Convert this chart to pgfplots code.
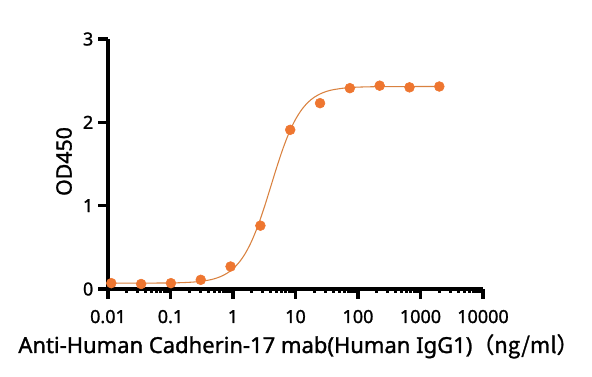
\documentclass[border=0pt]{standalone}
\usepackage{fontspec}
\setmainfont{Noto Sans}[UprightFeatures={FakeBold=1.3}]
\newfontfamily\cjk{Noto Sans CJK SC}[FakeBold=1.3]
\usepackage{pgfplots}
\pgfplotsset{compat=1.18}
\definecolor{pt}{HTML}{EE7630}
\definecolor{ln}{HTML}{D9813F}
\begin{document}
\begin{tikzpicture}
\path[use as bounding box] (-81pt,-66pt) rectangle (363pt,216.75pt);
\begin{axis}[
  at={(0,0)}, anchor=south west,
  scale only axis, width=281.25pt, height=187.5pt,
  xmode=log, xmin=0.01, xmax=10000, ymin=0, ymax=3,
  axis x line=bottom, axis y line=left,
  axis line style={-, line width=2.4pt, black},
  xtick={0.01,0.1,1,10,100,1000,10000},
  xticklabels={0.01,0.1,1,10,100,1000,10000},
  ytick={0,1,2,3}, yticklabels={0,1,2,3},
  minor tick num=0, minor xtick={},
  tick style={line width=2.4pt, black},
  tick align=outside, major tick length=7.5pt,
  tick label style={font=\fontsize{13.5}{15}\selectfont},
  xticklabel style={anchor=base, yshift=-18pt},
  /pgf/number format/assume math mode=true,
  xlabel={Anti-Human Cadherin-17 mab(Human IgG1)\cjk{（}ng/ml\cjk{）}},
  ylabel={OD450},
  xlabel style={at={(axis description cs:0.508,-0.256)}, anchor=base, font=\fontsize{16.5}{18}\selectfont},
  ylabel style={at={(axis description cs:-0.1173,0.51)}, anchor=center, font=\fontsize{16}{18}\selectfont},
  clip=false,
]
\addplot[ln, line width=0.8pt, smooth, no marks] coordinates {
(0.0113,0.0700) (0.0316,0.0704) (0.1,0.0729) (0.1585,0.0767) (0.2512,0.0854)
(0.3981,0.105) (0.5012,0.1225) (0.631,0.1485) (0.7943,0.187) (1,0.2425)
(1.2589,0.3217) (1.5849,0.431) (1.9953,0.577) (2.5119,0.761) (3.1623,0.979)
(3.981,1.219) (5.0119,1.461) (6.3096,1.686) (7.9433,1.880) (10,2.035)
(12.589,2.153) (15.849,2.240) (19.953,2.301) (25.119,2.343) (31.623,2.372)
(39.811,2.391) (63.096,2.413) (100,2.4225) (251.19,2.4286) (2000,2.430)
};
\addplot[only marks, mark=*, mark size=3.7pt, mark options={fill=pt, draw=pt}] coordinates {
(0.0113,0.07) (0.0339,0.06) (0.1016,0.07) (0.3048,0.11) (0.9145,0.27) (2.743,0.76)
(8.23,1.91) (24.69,2.23) (74.07,2.41) (222.2,2.44) (666.7,2.42) (2000,2.43)
};
\end{axis}
\end{tikzpicture}
\end{document}
